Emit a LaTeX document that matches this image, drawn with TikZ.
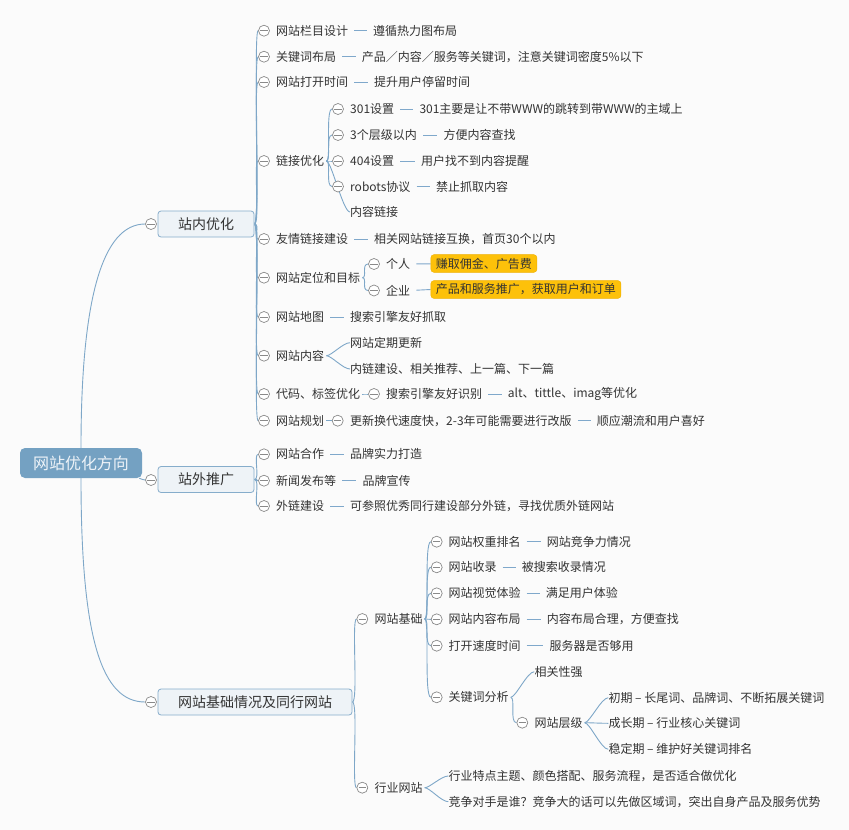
\documentclass[tikz,border=0pt]{standalone}
\usepackage{fontspec}
\setmainfont{Noto Sans CJK SC}
\usetikzlibrary{calc}
\definecolor{bgc}{HTML}{FBFBFB}
\definecolor{tc}{HTML}{333333}
\definecolor{lc}{HTML}{7EA7C8}
\definecolor{sepc}{HTML}{7FA8CB}
\definecolor{togc}{HTML}{8A8A8A}
\definecolor{rootf}{HTML}{74A1C2}
\definecolor{roott}{HTML}{EEF3F8}
\definecolor{l1f}{HTML}{EEF3F7}
\definecolor{l1d}{HTML}{86ADCB}
\definecolor{hlc}{HTML}{FDC10A}
\definecolor{hld}{HTML}{F0B000}
\pgfdeclarelayer{back}\pgfdeclarelayer{bg}
\pgfsetlayers{back,bg,main}
\newcommand\mmT[4]{\node[txt] (#1) at (#2,#3) {#4};}
\newcommand\mmO[3]{\node[tog] (#1) at (#2,#3) {};}
\newcommand\mmS[2]{\draw[sep] (#1.east) -- (#2.west);}
\newcommand\mmC[2]{\draw[con] (#1.east) .. controls +(7,0) and +(-7,0) .. (#2.west);}
\begin{document}
\begin{tikzpicture}[x=1pt,y=-1pt,
  txt/.style={anchor=west, inner sep=0pt, font=\fontsize{12}{14}\selectfont, text=tc},
  tog/.style={circle, draw=togc, fill=white, line width=0.7pt, minimum size=11pt, inner sep=0pt,
    path picture={\draw[togc, line width=0.7pt] ($(path picture bounding box.center)+(-3.6pt,0pt)$) -- ($(path picture bounding box.center)+(3.6pt,0pt)$);}},
  con/.style={draw=lc, line width=0.9pt, shorten <=2pt},
  sep/.style={draw=sepc, line width=0.9pt, shorten <=6pt, shorten >=6pt},
  hl/.style={anchor=west, fill=hlc, draw=hld, line width=0.4pt, rounded corners=3pt, inner xsep=5pt, inner ysep=3.2pt, font=\fontsize{12}{14}\selectfont, text=tc},
  l1/.style={draw=l1d, fill=l1f, rounded corners=3pt, line width=0.8pt, minimum height=26pt, inner xsep=0pt, font=\fontsize{14}{16}\selectfont, text=tc},
  rootbox/.style={fill=rootf, rounded corners=5pt, minimum width=122pt, minimum height=30pt, inner sep=0pt, font=\fontsize{16}{18}\selectfont, text=roott}
]
\useasboundingbox (0,0) rectangle (849,830);
\begin{pgfonlayer}{back}
\fill[bgc] (0,0) rectangle (849,830);
\end{pgfonlayer}

% root and level 1
\node[rootbox] (root) at (81,463) {网站优化方向};
\node[l1, minimum width=96pt] (s1) at (206,224) {站内优化};
\node[l1, minimum width=96pt] (s2) at (206,479.5) {站外推广};
\node[l1, minimum width=194pt] (s3) at (255,702) {网站基础情况及同行网站};
\mmO{o1}{151}{224}
\mmO{o2}{151}{480}
\mmO{o3}{151}{702}

% 站内优化 children
\mmO{oa1}{264}{30.7}  \mmT{a1}{276}{30.7}{网站栏目设计}
\mmT{a1x}{373}{30.7}{遵循热力图布局}
\mmO{oa2}{264}{56.7}  \mmT{a2}{276}{56.7}{关键词布局}
\mmT{a2x}{361.7}{56.7}{产品／内容／服务等关键词，注意关键词密度5\%以下}
\mmO{oa3}{264}{82}    \mmT{a3}{276}{82}{网站打开时间}
\mmT{a3x}{374}{82}{提升用户停留时间}
\mmO{oa4}{264}{161}   \mmT{a4}{276}{161}{链接优化}
\mmO{oa41}{338}{109}  \mmT{a41}{350}{109}{301设置}
\mmT{a41x}{419.3}{109}{301主要是让不带WWW的跳转到带WWW的主域上}
\mmO{oa42}{338}{135}  \mmT{a42}{350}{135}{3个层级以内}
\mmT{a42x}{443.3}{135}{方便内容查找}
\mmO{oa43}{338}{161}  \mmT{a43}{350}{161}{404设置}
\mmT{a43x}{421}{161}{用户找不到内容提醒}
\mmO{oa44}{338}{186.5}  \mmT{a44}{350}{186.5}{robots协议}
\mmT{a44x}{436}{186.5}{禁止抓取内容}
\mmT{a45}{350}{212}{内容链接}
\mmO{oa5}{264}{239}   \mmT{a5}{276}{239}{友情链接建设}
\mmT{a5x}{374}{239}{相关网站链接互换，首页30个以内}
\mmO{oa6}{264}{277.7} \mmT{a6}{276}{277.7}{网站定位和目标}
\mmO{oa61}{374}{264}  \mmT{a61}{386}{264}{个人}
\node[hl] (a61x) at (430.7,263.5) {赚取佣金、广告费};
\mmO{oa62}{374}{290.5}  \mmT{a62}{386}{290.5}{企业}
\node[hl] (a62x) at (430.7,289.5) {产品和服务推广，获取用户和订单};
\mmO{oa7}{264}{317}   \mmT{a7}{276}{317}{网站地图}
\mmT{a7x}{350}{317}{搜索引擎友好抓取}
\mmO{oa8}{264}{355.7} \mmT{a8}{276}{355.7}{网站内容}
\mmT{a81}{350}{342.7}{网站定期更新}
\mmT{a82}{350}{369}{内链建设、相关推荐、上一篇、下一篇}
\mmO{oa9}{264}{394}   \mmT{a9}{276}{394}{代码、标签优化}
\mmO{oa91}{374}{394}  \mmT{a91}{386}{394}{搜索引擎友好识别}
\mmT{a91x}{507.7}{394}{alt、tittle、imag等优化}
\mmO{oa10}{264}{420.7} \mmT{a10}{276}{420.7}{网站规划}
\mmO{oa101}{337.7}{420.7} \mmT{a101}{350}{420.7}{更新换代速度快，2-3年可能需要进行改版}
\mmT{a101x}{596.7}{420.7}{顺应潮流和用户喜好}

% 站外推广 children
\mmO{ob1}{264}{454.3} \mmT{b1}{276}{454.3}{网站合作}
\mmT{b1x}{350}{454.3}{品牌实力打造}
\mmO{ob2}{264}{480.7} \mmT{b2}{276}{480.7}{新闻发布等}
\mmT{b2x}{362.3}{480.7}{品牌宣传}
\mmO{ob3}{264}{506}   \mmT{b3}{276}{506}{外链建设}
\mmT{b3x}{350}{506}{可参照优秀同行建设部分外链，寻找优质外链网站}

% 网站基础情况及同行网站 children
\mmO{oc1}{362.3}{619} \mmT{c1}{374.3}{619}{网站基础}
\mmO{oc11}{436.7}{541.7} \mmT{c11}{448.3}{541.7}{网站权重排名}
\mmT{c11x}{546.7}{541.7}{网站竞争力情况}
\mmO{oc12}{436.7}{567.3} \mmT{c12}{448.3}{567.3}{网站收录}
\mmT{c12x}{521.7}{567.3}{被搜索收录情况}
\mmO{oc13}{436.7}{593.3} \mmT{c13}{448.3}{593.3}{网站视觉体验}
\mmT{c13x}{545.7}{593.3}{满足用户体验}
\mmO{oc14}{436.7}{619.3} \mmT{c14}{448.3}{619.3}{网站内容布局}
\mmT{c14x}{546.7}{619.3}{内容布局合理，方便查找}
\mmO{oc15}{436.7}{645.7} \mmT{c15}{448.3}{645.7}{打开速度时间}
\mmT{c15x}{549.3}{645.7}{服务器是否够用}
\mmO{oc16}{436.7}{697.3} \mmT{c16}{448.3}{697.3}{关键词分析}
\mmT{c161}{534.3}{671.7}{相关性强}
\mmO{oc162}{522.3}{722.7} \mmT{c162}{534.3}{722.7}{网站层级}
\mmT{c1621}{608.3}{697.7}{初期 – 长尾词、品牌词、不断拓展关键词}
\mmT{c1622}{608.3}{723.3}{成长期 – 行业核心关键词}
\mmT{c1623}{608.3}{749.3}{稳定期 – 维护好关键词排名}
\mmO{oc2}{362.3}{787.7} \mmT{c2}{374.3}{787.7}{行业网站}
\mmT{c21}{448.3}{776}{行业特点主题、颜色搭配、服务流程，是否适合做优化}
\mmT{c22}{448.3}{801.7}{竞争对手是谁？竞争大的话可以先做区域词，突出自身产品及服务优势}

\begin{pgfonlayer}{bg}
% root connectors
\draw[lc, line width=0.9pt] (root.north) .. controls (81,300) and (102,224) .. (o1.west);
\draw[lc, line width=0.9pt] (root.south) .. controls (81,640) and (102,702) .. (o3.west);
\draw[lc, line width=0.9pt] ([xshift=-3pt]root.south east) .. controls +(3,1) and +(-2,0) .. (o2.west);
% level 1 to level 2
\foreach \t in {oa1,oa2,oa3,oa4,oa5,oa6,oa7,oa8,oa9,oa10}
  {\draw[lc, line width=0.9pt] (s1.east) .. controls +(6,0) and +(-5,0) .. (\t.west);}
\foreach \t in {ob1,ob2,ob3}
  {\draw[lc, line width=0.9pt] (s2.east) .. controls +(6,0) and +(-5,0) .. (\t.west);}
\foreach \t in {oc1,oc2}
  {\draw[lc, line width=0.9pt] (s3.east) .. controls +(6,0) and +(-5,0) .. (\t.west);}
% deeper branches
\foreach \t in {oa41,oa42,oa43,oa44,a45} {\mmC{a4}{\t}}
\foreach \t in {oa61,oa62} {\mmC{a6}{\t}}
\foreach \t in {a81,a82} {\mmC{a8}{\t}}
\mmC{a9}{oa91}
\mmC{a10}{oa101}
\foreach \t in {oc11,oc12,oc13,oc14,oc15,oc16} {\mmC{c1}{\t}}
\foreach \t in {c161,oc162} {\mmC{c16}{\t}}
\foreach \t in {c1621,c1622,c1623} {\mmC{c162}{\t}}
\foreach \t in {c21,c22} {\mmC{c2}{\t}}
% separators
\mmS{a1}{a1x} \mmS{a2}{a2x} \mmS{a3}{a3x}
\mmS{a41}{a41x} \mmS{a42}{a42x} \mmS{a43}{a43x} \mmS{a44}{a44x}
\mmS{a5}{a5x}
\draw[sep, shorten >=0pt] (a61) -- (a61x);
\draw[sep, shorten >=0pt] (a62.east) -- (a62x.west);
\mmS{a7}{a7x} \mmS{a91}{a91x} \mmS{a101}{a101x}
\mmS{b1}{b1x} \mmS{b2}{b2x} \mmS{b3}{b3x}
\mmS{c11}{c11x} \mmS{c12}{c12x} \mmS{c13}{c13x} \mmS{c14}{c14x} \mmS{c15}{c15x}
\end{pgfonlayer}
\end{tikzpicture}
\end{document}
